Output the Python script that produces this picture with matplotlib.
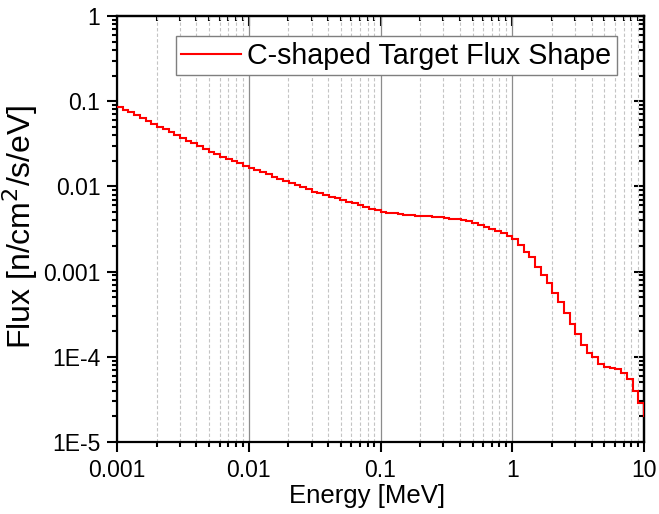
import matplotlib
matplotlib.use("Agg")
import matplotlib.pyplot as plt
import numpy as np
from matplotlib.ticker import NullFormatter

plt.rcParams['font.family'] = ['Liberation Sans', 'DejaVu Sans']

# group structure: 23 log-equal groups per decade, 0.001 - 10 MeV (+ one group above 10)
edge_mantissa = [1.000, 1.105, 1.222, 1.350, 1.493, 1.650, 1.823, 2.015, 2.228, 2.462,
                 2.721, 3.008, 3.325, 3.675, 4.062, 4.489, 4.962, 5.484, 6.062, 6.700,
                 7.406, 8.185, 9.047]
decade_start = [0.001, 0.01, 0.1, 1.0]
extra_edges = [10.0, 11.05]

# flux per group [n/cm2/s/eV]
flux_d1 = [0.0847, 0.0789, 0.0740, 0.0689, 0.0641, 0.0586, 0.0540, 0.0502, 0.0468, 0.0432,
           0.0401, 0.0373, 0.0344, 0.0321, 0.0298, 0.0275, 0.0256, 0.0240, 0.0223, 0.0210,
           0.0199, 0.0187, 0.0175]
flux_d2 = [0.0164, 0.0155, 0.0146, 0.0138, 0.0130, 0.0123, 0.0116, 0.0110, 0.0104, 0.00977,
           0.00923, 0.00871, 0.00832, 0.00794, 0.00759, 0.00724, 0.00692, 0.00661, 0.00631,
           0.00603, 0.00575, 0.00550, 0.00525]
flux_d3 = [0.00501, 0.00490, 0.00481, 0.00472, 0.00465, 0.00459, 0.00454, 0.00450, 0.00445,
           0.00440, 0.00433, 0.00426, 0.00419, 0.00411, 0.00403, 0.00389, 0.00373, 0.00355,
           0.00336, 0.00316, 0.00299, 0.00281, 0.00263]
flux_d4 = [0.00240, 0.00203, 0.00171, 0.00147, 0.00114, 0.000923, 0.000729, 0.000562,
           0.000437, 0.000331, 0.000242, 0.000186, 0.000138, 0.000112, 9.86e-5, 8.15e-5,
           7.66e-5, 7.45e-5, 7.26e-5, 6.50e-5, 5.47e-5, 3.99e-5, 2.88e-5]
flux_above = [2.02e-5]

x_ticks = [0.001, 0.01, 0.1, 1, 10]
x_tick_labels = ["0.001", "0.01", "0.1", "1", "10"]
y_ticks = [1e-5, 1e-4, 1e-3, 1e-2, 1e-1, 1]
y_tick_labels = ["1E-5", "1E-4", "0.001", "0.01", "0.1", "1"]

edges = np.concatenate([np.outer(decade_start, edge_mantissa).ravel(), extra_edges])
flux = np.concatenate([flux_d1, flux_d2, flux_d3, flux_d4, flux_above])

fig = plt.figure(figsize=(6.59, 5.14), dpi=100)
ax = fig.add_axes([117 / 659, 1 - 442 / 514, 527 / 659, 426 / 514])

ax.stairs(flux, edges, baseline=None, color='#ff0000', linewidth=1.5,
          label='C-shaped Target Flux Shape', zorder=3)

ax.set_xscale('log')
ax.set_yscale('log')
ax.set_xlim(0.001, 10)
ax.set_ylim(1e-5, 1)

ax.set_xticks(x_ticks, x_tick_labels)
ax.set_yticks(y_ticks, y_tick_labels)
ax.xaxis.set_minor_formatter(NullFormatter())
ax.yaxis.set_minor_formatter(NullFormatter())

ax.grid(which='major', axis='x', color='#8c8c8c', linewidth=0.9, linestyle='-')
ax.grid(which='minor', axis='x', color='#c4c4c4', linewidth=0.8, linestyle=(0, (3, 2)))
ax.set_axisbelow(True)

for s in ax.spines.values():
    s.set_linewidth(1.6)
ax.tick_params(which='major', direction='out', length=7, width=1.5, labelsize=16.5, pad=5)
ax.tick_params(which='minor', direction='out', length=3.5, width=1.5)

# mirrored ticks on top and right, pointing inward
top = ax.secondary_xaxis('top')
top.xaxis.set_major_formatter(NullFormatter())
top.xaxis.set_minor_formatter(NullFormatter())
top.tick_params(which='major', direction='in', length=7, width=1.5)
top.tick_params(which='minor', direction='in', length=3.5, width=1.5)
top.spines['top'].set_linewidth(1.6)

right = ax.secondary_yaxis('right')
right.yaxis.set_major_formatter(NullFormatter())
right.yaxis.set_minor_formatter(NullFormatter())
right.tick_params(which='major', direction='in', length=7, width=1.5)
right.tick_params(which='minor', direction='in', length=3.5, width=1.5)
right.spines['right'].set_linewidth(1.6)

ax.set_xlabel('Energy [MeV]', fontsize=18.5)
ax.xaxis.set_label_coords(0.474, -0.098)
ax.set_ylabel('Flux [n/cm$^2$/s/eV]', fontsize=23)
ax.yaxis.set_label_coords(-0.146, 0.505)

leg = ax.legend(loc='upper right', bbox_to_anchor=(500 / 527, 1 - 20 / 426), borderaxespad=0,
                fontsize=20.6, fancybox=False, framealpha=1, edgecolor='#7f7f7f',
                borderpad=0.2, handlelength=2.1, handletextpad=0.2)
leg.get_frame().set_linewidth(1.0)

fig.savefig('out.png', dpi=100)
